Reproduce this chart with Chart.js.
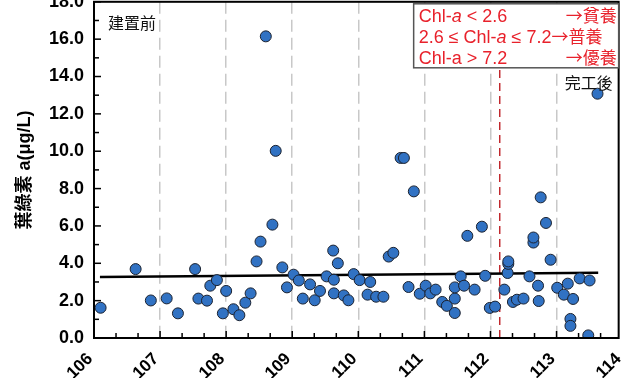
<!DOCTYPE html>
<html>
<head>
<meta charset="utf-8">
<script src="https://cdn.jsdelivr.net/npm/chart.js@4.4.0/dist/chart.umd.min.js"></script>
<style>
html, body { margin: 0; padding: 0; background: #fff; }
#wrap { position: relative; width: 627px; height: 378px; overflow: hidden; }
#c { position: absolute; left: 0; top: -19px; }
</style>
</head>
<body>
<div id="wrap"><canvas id="c" width="648" height="397"></canvas></div>
<script>
// sampling time (ROC year) and chlorophyll-a (ug/L)
let sampleYears = [106.10, 106.63, 106.86, 107.10, 107.27, 107.53, 107.58, 107.71, 107.76, 107.86,
    107.95, 108.00, 108.11, 108.20, 108.29, 108.37, 108.46, 108.52, 108.60, 108.70,
    108.75, 108.85, 108.92, 109.02, 109.10, 109.16, 109.27, 109.34, 109.42, 109.52,
    109.62, 109.63, 109.63, 109.69, 109.78, 109.85, 109.93, 110.02, 110.14, 110.18,
    110.27, 110.38, 110.46, 110.53, 110.64, 110.69, 110.76, 110.84, 110.93, 111.02,
    111.09, 111.17, 111.27, 111.34, 111.46, 111.46, 111.46, 111.55, 111.60, 111.65,
    111.76, 111.87, 111.92, 111.99, 112.07, 112.21, 112.26, 112.27, 112.27, 112.34,
    112.40, 112.50, 112.59, 112.65, 112.65, 112.72, 112.73, 112.76, 112.84, 112.91,
    113.01, 113.11, 113.17, 113.21, 113.21, 113.25, 113.35, 113.48, 113.50, 113.62];
let chlValues = [1.62, 3.69, 2.01, 2.12, 1.32, 3.69, 2.11, 2.00, 2.80, 3.10,
    1.32, 2.52, 1.54, 1.22, 1.89, 2.39, 4.10, 5.16, 16.15, 6.07,
    10.02, 3.78, 2.71, 3.39, 3.08, 2.11, 2.87, 2.02, 2.52, 3.30,
    4.68, 3.12, 2.39, 4.00, 2.28, 2.02, 3.42, 3.10, 2.32, 3.00,
    2.21, 2.21, 4.36, 4.56, 9.64, 9.64, 2.73, 7.85, 2.37, 2.80,
    2.39, 2.59, 1.93, 1.72, 1.34, 2.11, 2.71, 3.30, 2.80, 5.47,
    2.59, 5.96, 3.33, 1.61, 1.68, 2.59, 3.48, 3.97, 4.10, 1.93,
    2.05, 2.11, 3.30, 5.11, 5.38, 2.80, 1.98, 7.53, 6.16, 4.19,
    2.69, 2.32, 2.91, 1.02, 0.65, 2.09, 3.19, 0.14, 3.08, 13.08];

let trendX = [106.09, 113.63];
let trendY = [3.26, 3.49];

let completionYear = 112.14;

let xTicks = [106, 107, 108, 109, 110, 111, 112, 113, 114];
let xTickLabels = ['106', '107', '108', '109', '110', '111', '112', '113', '114'];
let yTickLabels = ['0.0', '2.0', '4.0', '6.0', '8.0', '10.0', '12.0', '14.0', '16.0', '18.0'];

// each legend row: latin segments (text, italic) then the CJK class at the end
let legendLines = [
    [['Chl-', false], ['a', true], [' < 2.6', false]],
    [['2.6 ≤ Chl-', false], ['a', true], [' ≤ 7.2', false]],
    [['Chl-a > 7.2', false]]
];
let legendClass = ['→貧養', '→普養', '→優養'];

const FONT = '"Liberation Sans", Arial, "Noto Sans CJK TC", sans-serif';
const CJK = '"Noto Sans CJK TC", sans-serif';

let scatterPoints = sampleYears.map((v, i) => ({ x: v, y: chlValues[i] }));
let trendPoints = trendX.map((v, i) => ({ x: v, y: trendY[i] }));
let dividerPoints = [{ x: completionYear, y: 0 }, { x: completionYear, y: 18 }];

const overlay = {
    id: 'overlay',
    afterDatasetsDraw(chart) {
        const { ctx, chartArea: a, scales: { x, y } } = chart;
        ctx.save();
        // inward ticks
        ctx.strokeStyle = '#000';
        ctx.lineWidth = 1.5;
        for (let i = 0; i <= 23; i++) {
            const px = x.getPixelForValue(106 + i / 3);
            const len = i % 3 === 0 ? 7 : 5;
            ctx.beginPath();
            ctx.moveTo(px, a.bottom);
            ctx.lineTo(px, a.bottom - len);
            ctx.stroke();
        }
        for (let v = 0; v <= 18; v++) {
            const py = y.getPixelForValue(v);
            const len = v % 2 === 0 ? 7 : 5;
            ctx.beginPath();
            ctx.moveTo(a.left, py);
            ctx.lineTo(a.left + len, py);
            ctx.stroke();
        }
        // frame
        ctx.lineWidth = 2;
        ctx.strokeRect(a.left, a.top, a.right - a.left, a.bottom - a.top);

        // period labels
        ctx.fillStyle = '#111';
        ctx.font = '16px ' + CJK;
        ctx.textBaseline = 'middle';
        ctx.textAlign = 'left';
        ctx.fillText('建置前', a.left + 14, a.top + 21);
        ctx.textAlign = 'right';
        ctx.fillText('完工後', a.right - 6, a.top + 81);

        // trophic legend box
        const bx = a.right - 205, by = a.top + 2, bw = 205, bh = 64;
        ctx.fillStyle = '#fff';
        ctx.fillRect(bx, by, bw, bh);
        ctx.strokeStyle = '#555';
        ctx.lineWidth = 1.5;
        ctx.strokeRect(bx, by, bw, bh);
        ctx.fillStyle = '#e8212b';
        ctx.textBaseline = 'alphabetic';
        legendLines.forEach((segs, i) => {
            let tx = bx + 5;
            const ty = by + 18 + i * 21;
            ctx.textAlign = 'left';
            segs.forEach(([t, it]) => {
                ctx.font = (it ? 'italic ' : '') + '18px ' + FONT;
                ctx.fillText(t, tx, ty);
                tx += ctx.measureText(t).width;
            });
            ctx.font = '17px ' + CJK;
            if (i === 1) {
                ctx.fillText(legendClass[i], tx, ty);
            } else {
                ctx.textAlign = 'right';
                ctx.fillText(legendClass[i], a.right - 2, ty);
            }
        });
        ctx.restore();
    }
};

new Chart(document.getElementById('c'), {
    type: 'scatter',
    data: {
        datasets: [{
            data: scatterPoints,
            backgroundColor: '#3172c3',
            borderColor: '#1b2230',
            borderWidth: 1,
            pointRadius: 5.5,
            order: 0
        }, {
            type: 'line',
            data: trendPoints,
            borderColor: '#000',
            borderWidth: 2.5,
            pointRadius: 0,
            fill: false,
            order: 1
        }, {
            type: 'line',
            data: dividerPoints,
            borderColor: '#c0282d',
            borderWidth: 1.5,
            borderDash: [8, 5],
            pointRadius: 0,
            fill: false,
            order: 2
        }]
    },
    options: {
        responsive: false,
        animation: false,
        devicePixelRatio: 1,
        layout: { padding: { left: 4, right: 5, top: 0, bottom: 0 } },
        plugins: { legend: { display: false }, tooltip: { enabled: false } },
        scales: {
            x: {
                type: 'linear',
                min: 106,
                max: 113.94,
                afterFit(s) { s.height = 40; },
                afterBuildTicks(s) { s.ticks = xTicks.map(v => ({ value: v })); },
                ticks: {
                    minRotation: 45,
                    maxRotation: 45,
                    padding: 11,
                    labelOffset: -4,
                    color: '#000',
                    font: { family: FONT, size: 17, weight: 'bold' },
                    callback: (v) => xTickLabels[Math.round(v - 106)]
                },
                grid: {
                    drawTicks: false,
                    color: (c) => (c.tick && (c.tick.value === 106 || c.tick.value === 114)) ? 'rgba(0,0,0,0)' : '#c8c8c8',
                    lineWidth: 1.5
                },
                border: { display: false, dash: [12, 6] }
            },
            y: {
                min: 0,
                max: 18,
                afterFit(s) { s.width = 90; },
                ticks: {
                    stepSize: 2,
                    padding: 10,
                    color: '#000',
                    font: { family: FONT, size: 18, weight: 'bold' },
                    callback: (v) => yTickLabels[Math.round(v / 2)]
                },
                grid: { display: false, drawTicks: false },
                border: { display: false },
                title: {
                    display: true,
                    text: '葉綠素 a(μg/L)',
                    color: '#000',
                    padding: { top: 10, bottom: 0 },
                    font: { family: FONT, size: 18, weight: 'bold' }
                }
            }
        }
    },
    plugins: [overlay]
});
</script>
</body>
</html>
